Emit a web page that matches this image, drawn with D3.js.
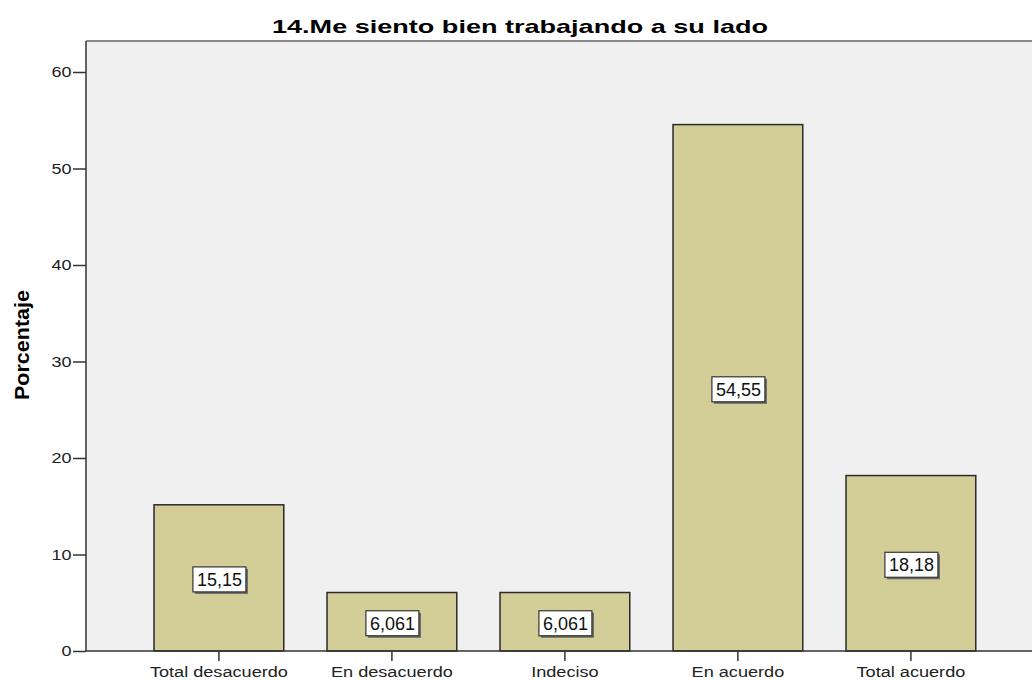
<!DOCTYPE html>
<meta charset="utf-8">
<style>
body { margin: 0; background: #fff; }
text { font-family: Arial, "Liberation Sans", sans-serif; }
.bar { fill: #d3ce97; stroke: #2b2b2b; stroke-width: 1.5; }
.axis path, .axis line { stroke: #333; stroke-width: 1.5; }
.axis text { font-size: 15px; fill: #222; }
</style>
<body></body>
<script src="https://cdn.jsdelivr.net/npm/d3@7/dist/d3.min.js"></script>
<script>
// data
var categories = ["Total desacuerdo", "En desacuerdo", "Indeciso", "En acuerdo", "Total acuerdo"];
var values = [15.15, 6.061, 6.061, 54.55, 18.18];
var labels = ["15,15", "6,061", "6,061", "54,55", "18,18"];
var yTicks = [0, 10, 20, 30, 40, 50, 60];

var W = 1032, H = 682;
var plotLeft = 86, plotTop = 41, plotBottom = 651;

var svg = d3.select("body").append("svg")
    .attr("width", W).attr("height", H);

// plot background
svg.append("rect")
    .attr("x", plotLeft).attr("y", plotTop)
    .attr("width", W - plotLeft).attr("height", plotBottom - plotTop)
    .attr("fill", "#f0f0f0");

// top frame line
svg.append("line")
    .attr("x1", plotLeft).attr("x2", W).attr("y1", plotTop).attr("y2", plotTop)
    .attr("stroke", "#888").attr("stroke-width", 2);

var x = d3.scaleBand()
    .domain(categories)
    .range([132.4, 997.4])
    .paddingInner(0.25)
    .paddingOuter(0.125);

var y = d3.scaleLinear()
    .domain([0, 60])
    .range([plotBottom, 72]);

// bars
var data = categories.map(function(c, i) { return {cat: c, val: values[i], lab: labels[i]}; });

svg.selectAll(".bar").data(data).enter().append("rect")
    .attr("class", "bar")
    .attr("x", function(d) { return x(d.cat); })
    .attr("y", function(d) { return y(d.val); })
    .attr("width", x.bandwidth())
    .attr("height", function(d) { return plotBottom - y(d.val); });

// axes
var yAxis = d3.axisLeft(y).tickValues(yTicks).tickSize(13).tickPadding(-1);
var gy = svg.append("g").attr("class", "axis")
    .attr("transform", "translate(" + plotLeft + ",0)")
    .call(yAxis);
gy.select(".domain").attr("d", "M0," + plotTop + "V" + plotBottom);
gy.selectAll(".tick text").attr("transform", "scale(1.2,1)");

svg.append("line")
    .attr("x1", plotLeft).attr("x2", W).attr("y1", plotBottom).attr("y2", plotBottom)
    .attr("stroke", "#333").attr("stroke-width", 1.5);

var xAxis = d3.axisBottom(x).tickSize(10).tickPadding(5);
var gx = svg.append("g").attr("class", "axis")
    .attr("transform", "translate(0," + plotBottom + ")")
    .call(xAxis);
gx.select(".domain").remove();
gx.selectAll(".tick text").attr("transform", "scale(1.21,1)");

// value labels
var lab = svg.selectAll(".vlab").data(data).enter().append("g")
    .attr("class", "vlab")
    .attr("transform", function(d) {
        return "translate(" + (x(d.cat) + x.bandwidth() / 2) + "," + ((y(d.val) + plotBottom) / 2 + 2) + ")";
    });

lab.append("rect")
    .attr("x", -24).attr("y", -11)
    .attr("width", 53).attr("height", 25)
    .attr("fill", "#666");
lab.append("rect")
    .attr("x", -26).attr("y", -13)
    .attr("width", 53).attr("height", 25)
    .attr("fill", "#fff").attr("stroke", "#333").attr("stroke-width", 1.2);
lab.append("text")
    .attr("text-anchor", "middle")
    .attr("x", 0.5)
    .attr("y", 6)
    .style("font-size", "18px")
    .attr("fill", "#111")
    .text(function(d) { return d.lab; });

// title
svg.append("text")
    .attr("x", 272).attr("y", 33)
    .attr("textLength", 496).attr("lengthAdjust", "spacingAndGlyphs")
    .style("font-size", "19px").style("font-weight", "bold")
    .text("14.Me siento bien trabajando a su lado");

// y label
svg.append("text")
    .attr("transform", "translate(29,400) rotate(-90)")
    .attr("textLength", 110).attr("lengthAdjust", "spacingAndGlyphs")
    .style("font-size", "20px").style("font-weight", "bold")
    .text("Porcentaje");
</script>
